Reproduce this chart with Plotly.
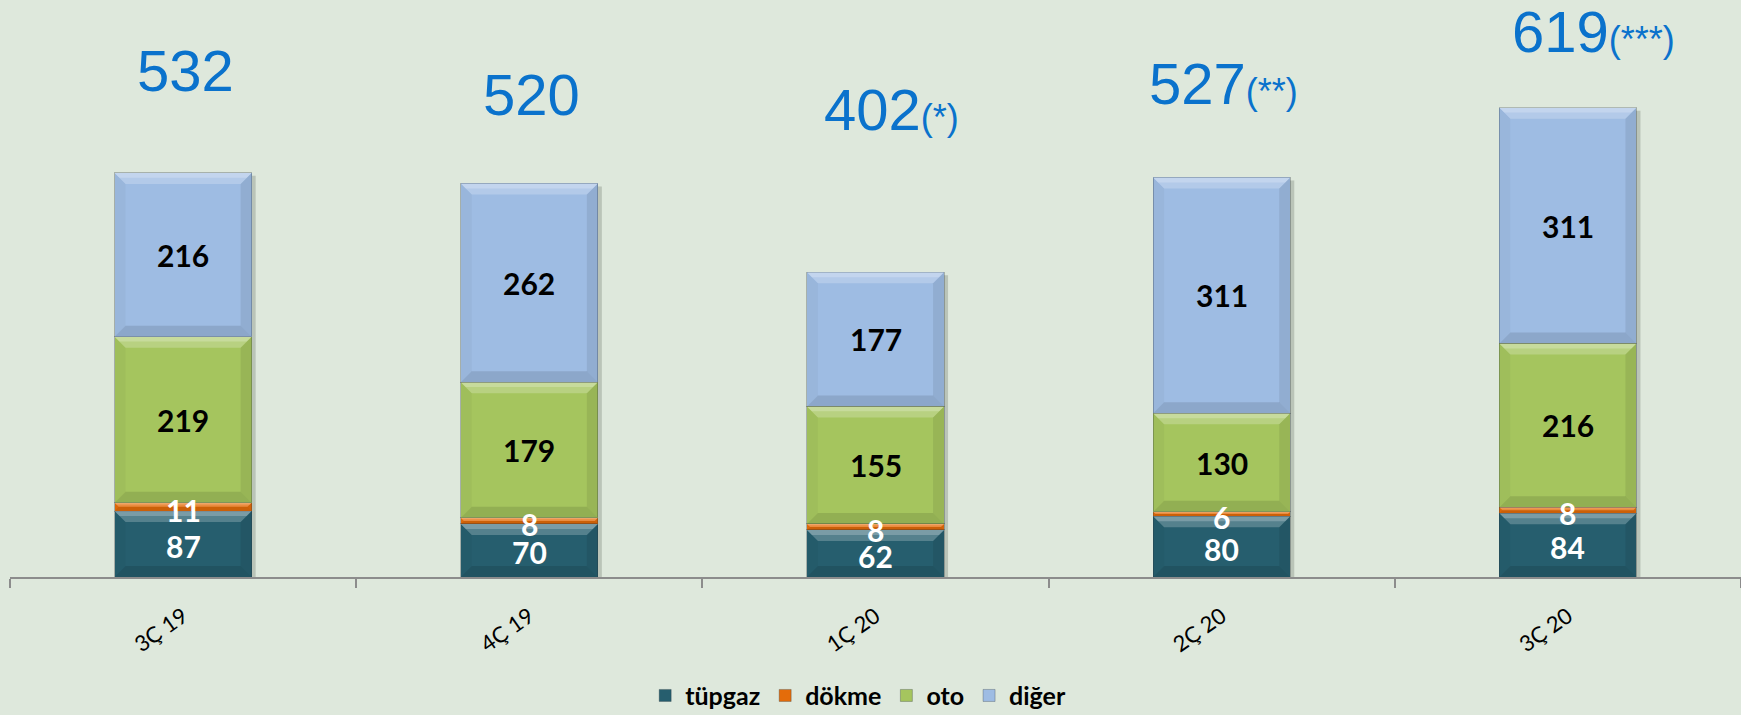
import plotly.graph_objects as go

# Quarterly volumes by segment
quarters = ["3Ç 19", "4Ç 19", "1Ç 20", "2Ç 20", "3Ç 20"]
tupgaz = [87, 70, 62, 80, 84]
dokme = [11, 8, 8, 6, 8]
oto = [219, 179, 155, 130, 216]
diger = [216, 262, 177, 311, 311]

# Reported totals with footnote markers
total_values = [532, 520, 402, 527, 619]
total_notes = ["", "", "(*)", "(**)", "(***)"]

# Placement of the total labels (data units / pixel shift)
total_label_y = [668, 636, 617, 651, 719]
total_label_xshift = [2, 2, 16, 2, 26]

series = [
    # name, values, fill, label colour, label pixel shift
    ("tüpgaz", tupgaz, "#265E6E", "white", -2),
    ("dökme", dokme, "#E46C0A", "white", -3),
    ("oto", oto, "#A5C55E", "black", 0),
    ("diğer", diger, "#9EBCE3", "black", 0),
]

# Layout geometry (pixels) used for the bevel decoration
W, H = 1741, 715
M_L, M_R, M_T, M_B = 10, 0, 0, 138
Y_MAX = 761
BARGAP = 0.604
plot_w = W - M_L - M_R
plot_h = H - M_T - M_B
px_per_unit = plot_h / Y_MAX
half_w = plot_w / len(quarters) * (1 - BARGAP) / 2
BEVEL = 11

fig = go.Figure()
for name, vals, color, tcolor, _ in series:
    fig.add_trace(go.Bar(
        name=name,
        x=quarters,
        y=vals,
        marker=dict(color=color, line=dict(color="rgba(40,50,60,0.30)", width=1)),
        hoverinfo="x+y+name",
    ))


def pix_shape(i, anchor_y, path, fill, layer="above"):
    fig.add_shape(
        type="path", xref="x", yref="y",
        xsizemode="pixel", ysizemode="pixel",
        xanchor=i, yanchor=anchor_y, path=path,
        fillcolor=fill, line=dict(width=0), layer=layer,
    )


# Soft drop shadow behind each stacked bar
totals = [a + b + c + d for a, b, c, d in zip(tupgaz, dokme, oto, diger)]
for i, tot in enumerate(totals):
    hp = tot * px_per_unit
    pix_shape(i, 0,
              f"M {-half_w + 3},-3 L {half_w + 4},-3 L {half_w + 4},{hp - 3} L {-half_w + 3},{hp - 3} Z",
              "rgba(60,70,60,0.22)", layer="below")

# Bevelled edges on every segment
base = [0] * len(quarters)
for name, vals, color, tcolor, dy in series:
    for i, v in enumerate(vals):
        hp = v * px_per_unit
        b = min(BEVEL, hp / 2)
        bottom = base[i]
        h = half_w
        # top highlight, brighter near the edge
        pix_shape(i, bottom, f"M {-h},{hp} L {h},{hp} L {h - b},{hp - b} L {-h + b},{hp - b} Z",
                  "rgba(255,255,255,0.22)")
        bt = b * 0.45
        pix_shape(i, bottom, f"M {-h},{hp} L {h},{hp} L {h - bt},{hp - bt} L {-h + bt},{hp - bt} Z",
                  "rgba(255,255,255,0.22)")
        # bottom (dark)
        pix_shape(i, bottom, f"M {-h},0 L {h},0 L {h - b},{b} L {-h + b},{b} Z",
                  "rgba(0,0,0,0.11)")
        # left (slightly dark)
        pix_shape(i, bottom, f"M {-h},0 L {-h + b},{b} L {-h + b},{hp - b} L {-h},{hp} Z",
                  "rgba(0,0,0,0.03)")
        # right (darker)
        pix_shape(i, bottom, f"M {h},0 L {h - b},{b} L {h - b},{hp - b} L {h},{hp} Z",
                  "rgba(0,0,0,0.08)")
    base = [bb + v for bb, v in zip(base, vals)]

# Segment value labels, drawn on top so thin segments stay readable
base = [0] * len(quarters)
for name, vals, color, tcolor, dy in series:
    for q, bb, v in zip(quarters, base, vals):
        fig.add_annotation(
            x=q, y=bb + v / 2, text=str(v), showarrow=False, yshift=dy,
            xanchor="center", yanchor="middle",
            font=dict(family="Lato", size=30, color=tcolor, weight="bold"),
        )
    base = [bb + v for bb, v in zip(base, vals)]

for q, v, note, ly, dx in zip(quarters, total_values, total_notes, total_label_y, total_label_xshift):
    label = str(v)
    if note:
        label += f"<span style='font-size:36px'>{note}</span>"
    fig.add_annotation(
        x=q, y=ly, text=label, showarrow=False, xshift=dx,
        xanchor="center", yanchor="middle",
        font=dict(family="Liberation Sans", size=58, color="#0A72CC"),
    )

fig.update_layout(
    width=W, height=H,
    barmode="stack",
    bargap=BARGAP,
    paper_bgcolor="#DEE8DC",
    plot_bgcolor="#DEE8DC",
    margin=dict(l=M_L, r=M_R, t=M_T, b=M_B),
    showlegend=True,
    legend=dict(
        orientation="h", x=0.490, xanchor="center",
        yref="container", y=0.027, yanchor="middle",
        font=dict(family="Lato", size=25, color="black", weight="bold"),
        traceorder="normal", itemwidth=30,
    ),
    xaxis=dict(
        showline=True, linecolor="#8C8C8C", linewidth=2,
        ticks="outside", tickson="boundaries", ticklen=9, tickcolor="#8C8C8C", tickwidth=2,
        tickangle=-35, tickfont=dict(family="Lato", size=22, color="black"),
        ticklabelstandoff=16,
        showgrid=False,
    ),
    yaxis=dict(range=[0, Y_MAX], visible=False, showgrid=False, zeroline=False),
)

fig.write_html("out.html")
